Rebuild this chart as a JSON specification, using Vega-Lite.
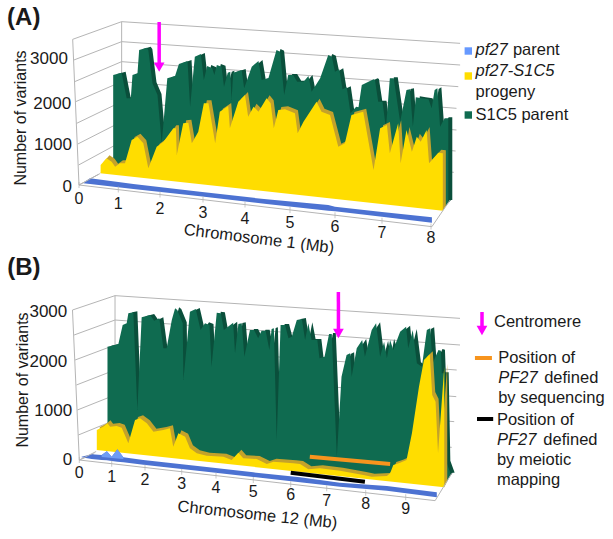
{"$schema":"https://vega.github.io/schema/vega-lite/v6.json","padding":0,"spacing":0,"bounds":"flush","background":"white","config":{"font":"Liberation Sans","view":{"stroke":null},"text":{"font":"Liberation Sans","color":"#1a1a1a"}},
"datasets":{
"gA":[{"mb":0.87,"val":2640},{"mb":1.08,"val":2696},{"mb":1.2,"val":2080},{"mb":1.3,"val":2080},{"mb":1.34,"val":2640},{"mb":1.46,"val":2680},{"mb":1.5,"val":3240},{"mb":1.68,"val":3296},{"mb":1.72,"val":3240},{"mb":1.82,"val":2440},{"mb":1.94,"val":2160},{"mb":2.04,"val":1000},{"mb":2.17,"val":2560},{"mb":2.35,"val":2616},{"mb":2.44,"val":2904},{"mb":2.64,"val":2976},{"mb":2.7,"val":1880},{"mb":2.81,"val":3080},{"mb":2.95,"val":3144},{"mb":3.02,"val":2520},{"mb":3.1,"val":2856},{"mb":3.22,"val":2800},{"mb":3.27,"val":2640},{"mb":3.33,"val":2880},{"mb":3.44,"val":2840},{"mb":3.5,"val":2360},{"mb":3.59,"val":2696},{"mb":3.65,"val":2720},{"mb":3.68,"val":2040},{"mb":3.72,"val":2696},{"mb":3.92,"val":2760},{"mb":3.98,"val":2320},{"mb":4.15,"val":2840},{"mb":4.3,"val":2976},{"mb":4.37,"val":2520},{"mb":4.52,"val":2560},{"mb":4.7,"val":3240},{"mb":4.78,"val":3200},{"mb":4.87,"val":2160},{"mb":4.96,"val":2640},{"mb":5.07,"val":2640},{"mb":5.16,"val":2480},{"mb":5.3,"val":2480},{"mb":5.41,"val":2616},{"mb":5.48,"val":2240},{"mb":5.67,"val":2560},{"mb":5.85,"val":3120},{"mb":5.93,"val":3080},{"mb":6.0,"val":2720},{"mb":6.09,"val":2776},{"mb":6.16,"val":2296},{"mb":6.25,"val":2344},{"mb":6.33,"val":1720},{"mb":6.45,"val":1880},{"mb":6.5,"val":1864},{"mb":6.57,"val":2400},{"mb":6.82,"val":2536},{"mb":6.85,"val":2520},{"mb":6.92,"val":2000},{"mb":7.01,"val":2000},{"mb":7.08,"val":1360},{"mb":7.16,"val":2560},{"mb":7.24,"val":2560},{"mb":7.37,"val":1520},{"mb":7.5,"val":2280},{"mb":7.57,"val":2296},{"mb":7.63,"val":1400},{"mb":7.69,"val":2104},{"mb":7.81,"val":2080},{"mb":7.95,"val":2056},{"mb":8.007,"val":1840},{"mb":8.04,"val":2280},{"mb":8.07,"val":2320},{"mb":8.1,"val":1400},{"mb":8.15,"val":1600},{"mb":8.19,"val":1600}],
"yA":[{"mb":0.55,"val":480},{"mb":0.7,"val":640},{"mb":0.83,"val":560},{"mb":0.92,"val":440},{"mb":1.04,"val":520},{"mb":1.16,"val":520},{"mb":1.32,"val":1080},{"mb":1.46,"val":1160},{"mb":1.6,"val":1000},{"mb":1.72,"val":400},{"mb":1.92,"val":920},{"mb":2.08,"val":1040},{"mb":2.31,"val":1360},{"mb":2.37,"val":1360},{"mb":2.39,"val":720},{"mb":2.54,"val":1480},{"mb":2.66,"val":1496},{"mb":2.74,"val":1000},{"mb":2.89,"val":1280},{"mb":3.02,"val":1960},{"mb":3.13,"val":1960},{"mb":3.29,"val":1000},{"mb":3.4,"val":1760},{"mb":3.6,"val":1896},{"mb":3.64,"val":1360},{"mb":3.84,"val":2000},{"mb":4.0,"val":2160},{"mb":4.07,"val":1640},{"mb":4.19,"val":1880},{"mb":4.3,"val":1760},{"mb":4.48,"val":2080},{"mb":4.57,"val":1960},{"mb":4.64,"val":1360},{"mb":4.74,"val":1800},{"mb":4.89,"val":1816},{"mb":5.11,"val":1720},{"mb":5.17,"val":1240},{"mb":5.3,"val":1520},{"mb":5.59,"val":2000},{"mb":5.7,"val":1760},{"mb":5.89,"val":1680},{"mb":6.07,"val":920},{"mb":6.21,"val":1000},{"mb":6.35,"val":1680},{"mb":6.6,"val":1760},{"mb":6.82,"val":360},{"mb":6.96,"val":1360},{"mb":7.1,"val":1440},{"mb":7.16,"val":760},{"mb":7.33,"val":1480},{"mb":7.38,"val":520},{"mb":7.5,"val":1320},{"mb":7.61,"val":800},{"mb":7.71,"val":1160},{"mb":7.79,"val":1040},{"mb":7.91,"val":1320},{"mb":7.96,"val":520},{"mb":8.08,"val":776},{"mb":8.13,"val":760}],
"maskA":[{"mb":0.48,"val":288},{"mb":8.13,"val":-616},{"mb":8.165,"val":-496},{"mb":8.22,"val":-360},{"mb":8.76,"val":-360}],
"blueA":[{"mb":0.11,"top":40,"bot":40},{"mb":0.28,"top":160,"bot":24},{"mb":1.36,"top":24,"bot":-96},{"mb":2.93,"top":-160,"bot":-272},{"mb":4.48,"top":-344,"bot":-456},{"mb":5.85,"top":-480,"bot":-616},{"mb":6.0,"top":-520,"bot":-632},{"mb":7.0,"top":-648,"bot":-760},{"mb":8.01,"top":-776,"bot":-904}],
"wallA":[{"g":"7","mb":-0.16,"val":3496},{"g":"7","mb":1.08,"val":3920},{"g":"7","mb":8.32,"val":3400},{"g":"6","mb":-0.13,"val":3000},{"g":"6","mb":1.08,"val":3440},{"g":"6","mb":8.32,"val":2880},{"g":"5","mb":-0.11,"val":2480},{"g":"5","mb":1.08,"val":2960},{"g":"5","mb":8.3,"val":2360},{"g":"4","mb":-0.085,"val":2000},{"g":"4","mb":1.08,"val":2480},{"g":"4","mb":8.28,"val":1840},{"g":"3","mb":-0.06,"val":1480},{"g":"3","mb":1.08,"val":2000},{"g":"3","mb":8.28,"val":1320},{"g":"2","mb":-0.03,"val":984},{"g":"2","mb":1.08,"val":1520},{"g":"2","mb":8.27,"val":816},{"g":"1","mb":-0.01,"val":480},{"g":"1","mb":1.08,"val":1040},{"g":"1","mb":8.25,"val":304},{"g":"0","mb":0,"val":0},{"g":"0","mb":1.08,"val":560},{"g":"0","mb":8.23,"val":-184},{"g":"v","mb":-0.16,"val":3496},{"g":"v","mb":0,"val":0},{"g":"b","mb":1.08,"val":3920},{"g":"b","mb":1.081,"val":560}],
"frontA":[{"g":"d","mb":0,"val":0},{"g":"d","mb":0.53,"val":272},{"g":"f","mb":0,"val":0},{"g":"f","mb":8.01,"val":-1000},{"g":"r","mb":8.01,"val":-1000},{"g":"r","mb":8.21,"val":-360}],
"ticksA":[{"mb":0,"val":0},{"mb":1,"val":-110},{"mb":2,"val":-228},{"mb":3,"val":-350},{"mb":4,"val":-469},{"mb":5,"val":-597},{"mb":6,"val":-724},{"mb":7,"val":-857},{"mb":8,"val":-996}],
"xlabA":[{"t":"0","mb":0,"val":-336},{"t":"1","mb":1,"val":-456},{"t":"2","mb":2,"val":-576},{"t":"3","mb":3,"val":-672},{"t":"4","mb":4,"val":-816},{"t":"5","mb":5,"val":-912},{"t":"6","mb":6,"val":-1008},{"t":"7","mb":7,"val":-1152},{"t":"8","mb":8,"val":-1272}],
"ylabA":[{"t":"3000","mb":-0.28,"val":3024},{"t":"2000","mb":-0.2,"val":1944},{"t":"1000","mb":-0.18,"val":960},{"t":"0","mb":-0.18,"val":-48}],
"legNormA":[{"t":"parent","mb":8.9,"val":3240},{"t":"progeny","mb":8.49,"val":2232},{"t":"S1C5 parent","mb":8.49,"val":1680}],
"legItA":[{"t":"pf27","mb":8.49,"val":3240},{"t":"pf27-S1C5","mb":8.49,"val":2736}],
"gB":[{"mb":0.87,"val":2267},{"mb":1.1,"val":2300},{"mb":1.2,"val":2320},{"mb":1.33,"val":2700},{"mb":1.45,"val":2733},{"mb":1.5,"val":2933},{"mb":1.65,"val":2953},{"mb":1.77,"val":1000},{"mb":1.9,"val":2853},{"mb":2.14,"val":2900},{"mb":2.25,"val":2787},{"mb":2.39,"val":2833},{"mb":2.5,"val":2233},{"mb":2.59,"val":2233},{"mb":2.73,"val":2800},{"mb":2.82,"val":3033},{"mb":2.88,"val":3000},{"mb":3.03,"val":2733},{"mb":3.05,"val":1600},{"mb":3.24,"val":2967},{"mb":3.41,"val":3020},{"mb":3.55,"val":2600},{"mb":3.68,"val":2733},{"mb":3.81,"val":2700},{"mb":3.87,"val":1867},{"mb":4.02,"val":2947},{"mb":4.13,"val":2933},{"mb":4.21,"val":2600},{"mb":4.46,"val":2747},{"mb":4.51,"val":2133},{"mb":4.6,"val":2720},{"mb":4.69,"val":2733},{"mb":4.76,"val":2067},{"mb":4.91,"val":2600},{"mb":5.02,"val":2600},{"mb":5.13,"val":2433},{"mb":5.22,"val":2587},{"mb":5.33,"val":2587},{"mb":5.43,"val":2200},{"mb":5.49,"val":2620},{"mb":5.55,"val":2633},{"mb":5.625,"val":400},{"mb":5.73,"val":2700},{"mb":5.85,"val":2700},{"mb":5.94,"val":2433},{"mb":6.03,"val":2467},{"mb":6.17,"val":2800},{"mb":6.31,"val":2820},{"mb":6.4,"val":2400},{"mb":6.49,"val":2733},{"mb":6.58,"val":2400},{"mb":6.74,"val":2400},{"mb":6.8,"val":2033},{"mb":6.94,"val":2067},{"mb":7.06,"val":2520},{"mb":7.13,"val":2520},{"mb":7.26,"val":67},{"mb":7.38,"val":1667},{"mb":7.51,"val":2100},{"mb":7.6,"val":2133},{"mb":7.64,"val":1667},{"mb":7.77,"val":2233},{"mb":7.91,"val":2400},{"mb":7.98,"val":2067},{"mb":8.15,"val":2600},{"mb":8.26,"val":2733},{"mb":8.36,"val":2067},{"mb":8.46,"val":2367},{"mb":8.53,"val":2033},{"mb":8.61,"val":2400},{"mb":8.69,"val":2200},{"mb":8.86,"val":2567},{"mb":9.01,"val":2667},{"mb":9.06,"val":2233},{"mb":9.17,"val":2600},{"mb":9.27,"val":1933},{"mb":9.39,"val":1867},{"mb":9.51,"val":2600},{"mb":9.59,"val":2633},{"mb":9.65,"val":1933},{"mb":9.79,"val":2200},{"mb":9.85,"val":2187},{"mb":9.87,"val":1733},{"mb":9.94,"val":1733},{"mb":9.98,"val":-33},{"mb":10.08,"val":-267}],
"yB":[{"mb":0.54,"val":600},{"mb":0.74,"val":667},{"mb":0.87,"val":733},{"mb":0.95,"val":667},{"mb":1.15,"val":680},{"mb":1.3,"val":647},{"mb":1.5,"val":333},{"mb":1.7,"val":800},{"mb":1.85,"val":833},{"mb":2.05,"val":733},{"mb":2.23,"val":567},{"mb":2.5,"val":600},{"mb":2.68,"val":633},{"mb":2.77,"val":267},{"mb":2.91,"val":533},{"mb":3.1,"val":467},{"mb":3.24,"val":233},{"mb":3.44,"val":133},{"mb":3.73,"val":87},{"mb":4.2,"val":67},{"mb":4.42,"val":0},{"mb":4.6,"val":147},{"mb":4.73,"val":33},{"mb":5.09,"val":20},{"mb":5.36,"val":-80},{"mb":5.54,"val":-33},{"mb":6.07,"val":-67},{"mb":6.26,"val":-80},{"mb":6.49,"val":-187},{"mb":6.81,"val":-167},{"mb":7.34,"val":-213},{"mb":7.94,"val":-300},{"mb":8.15,"val":-333},{"mb":8.53,"val":-320},{"mb":8.61,"val":-267},{"mb":8.69,"val":-100},{"mb":8.86,"val":-53},{"mb":9.02,"val":0},{"mb":9.15,"val":533},{"mb":9.32,"val":1467},{"mb":9.44,"val":2000},{"mb":9.58,"val":2113},{"mb":9.64,"val":1300},{"mb":9.72,"val":1167},{"mb":9.78,"val":133},{"mb":9.93,"val":1867}],
"maskB":[{"mb":0.46,"val":206},{"mb":9.93,"val":-547},{"mb":10.04,"val":-367},{"mb":10.13,"val":-253},{"mb":11.28,"val":-253}],
"blueB":[{"mb":0.07,"top":67,"bot":53},{"mb":0.38,"top":113,"bot":20},{"mb":0.69,"top":100,"bot":0},{"mb":0.85,"top":173,"bot":-7},{"mb":1.0,"top":67,"bot":-20},{"mb":1.17,"top":213,"bot":-33},{"mb":1.35,"top":53,"bot":-47},{"mb":1.95,"top":0,"bot":-93},{"mb":3.53,"top":-127,"bot":-220},{"mb":5.0,"top":-247,"bot":-340},{"mb":6.26,"top":-347,"bot":-447},{"mb":7.34,"top":-453,"bot":-533},{"mb":8.53,"top":-520,"bot":-613},{"mb":9.75,"top":-647,"bot":-747}],
"blueLightB":[{"mb":0.69,"top":100,"bot":60},{"mb":0.85,"top":173,"bot":50},{"mb":1.0,"top":67,"bot":40},{"mb":1.17,"top":213,"bot":30},{"mb":1.35,"top":53,"bot":20}],
"wallB":[{"g":"6","mb":-0.21,"val":3000},{"g":"6","mb":1.1,"val":3287},{"g":"6","mb":10.31,"val":2833},{"g":"5","mb":-0.16,"val":2500},{"g":"5","mb":1.1,"val":2800},{"g":"5","mb":10.31,"val":2300},{"g":"4","mb":-0.13,"val":2000},{"g":"4","mb":1.1,"val":2300},{"g":"4","mb":10.23,"val":1800},{"g":"3","mb":-0.09,"val":1500},{"g":"3","mb":1.1,"val":1800},{"g":"3","mb":10.22,"val":1267},{"g":"2","mb":-0.06,"val":1000},{"g":"2","mb":1.1,"val":1300},{"g":"2","mb":10.17,"val":767},{"g":"1","mb":-0.03,"val":500},{"g":"1","mb":1.1,"val":800},{"g":"1","mb":10.11,"val":253},{"g":"0","mb":0,"val":0},{"g":"0","mb":1.1,"val":300},{"g":"0","mb":10.05,"val":-253},{"g":"v","mb":-0.21,"val":3000},{"g":"v","mb":0,"val":0},{"g":"b","mb":1.1,"val":3287},{"g":"b","mb":1.101,"val":300}],
"frontB":[{"g":"d","mb":0,"val":0},{"g":"d","mb":0.52,"val":170},{"g":"f","mb":0,"val":0},{"g":"f","mb":9.71,"val":-813},{"g":"r","mb":9.71,"val":-813},{"g":"r","mb":10.11,"val":-267}],
"ticksB":[{"mb":0,"val":0},{"mb":1,"val":-74},{"mb":2,"val":-150},{"mb":3,"val":-234},{"mb":4,"val":-312},{"mb":5,"val":-398},{"mb":6,"val":-483},{"mb":7,"val":-565},{"mb":8,"val":-655},{"mb":9,"val":-746}],
"xlabB":[{"t":"0","mb":0,"val":-260},{"t":"1","mb":1,"val":-340},{"t":"2","mb":2,"val":-400},{"t":"3","mb":3,"val":-480},{"t":"4","mb":4,"val":-560},{"t":"5","mb":5,"val":-640},{"t":"6","mb":6,"val":-700},{"t":"7","mb":7,"val":-820},{"t":"8","mb":8,"val":-880},{"t":"9","mb":9,"val":-980}],
"ylabB":[{"t":"3000","mb":-0.37,"val":2960},{"t":"2000","mb":-0.37,"val":1960},{"t":"1000","mb":-0.22,"val":980},{"t":"0","mb":-0.22,"val":0}],
"legNormB":[{"t":"Centromere","mb":11.13,"val":2760},{"t":"Position of","mb":11.23,"val":2040},{"t":"defined","mb":12.34,"val":1640},{"t":"by sequencing","mb":11.23,"val":1240},{"t":"Position of","mb":11.2,"val":800},{"t":"defined","mb":12.32,"val":400},{"t":"by meiotic","mb":11.2,"val":0},{"t":"mapping","mb":11.2,"val":-400}],
"legItB":[{"t":"PF27","mb":11.23,"val":1640},{"t":"PF27","mb":11.2,"val":400}]
},
"vconcat":[
{"width":613,"height":262,
"encoding":{"x":{"field":"mb","type":"quantitative","axis":null,"scale":{"domain":[-2,0,1,2,3,4,5,6,7,8,10],"range":[0,79,118.3,160,203,245,290,335,382,431,613],"nice":false,"zero":false}},"y":{"field":"val","type":"quantitative","axis":null,"scale":{"domain":[-1848,4440],"range":[262,0],"nice":false,"zero":false}}},
"layer":[
{"data":{"name":"wallA"},"mark":{"type":"line","stroke":"#b5b5b5","strokeWidth":1},"encoding":{"detail":{"field":"g"}}},
{"data":{"name":"gA"},"mark":{"type":"area","color":"#0a4f3b","xOffset":4,"yOffset":-1},"encoding":{"y2":{"datum":-1848}}},
{"data":{"name":"gA"},"mark":{"type":"area","color":"#0f6b50"},"encoding":{"y2":{"datum":-1848}}},
{"data":{"name":"yA"},"mark":{"type":"area","color":"#c4a22a","xOffset":3,"yOffset":-3},"encoding":{"y2":{"datum":-1848}}},
{"data":{"name":"yA"},"mark":{"type":"area","color":"#ffdd00"},"encoding":{"y2":{"datum":-1848}}},
{"data":{"name":"maskA"},"mark":{"type":"area","color":"#ffffff"},"encoding":{"y2":{"datum":-1848}}},
{"data":{"name":"blueA"},"mark":{"type":"area","color":"#4c72d2"},"encoding":{"y":{"field":"top","type":"quantitative"},"y2":{"field":"bot"}}},
{"data":{"name":"frontA"},"mark":{"type":"line","stroke":"#b5b5b5","strokeWidth":1},"encoding":{"detail":{"field":"g"}}},
{"data":{"name":"ticksA"},"mark":{"type":"tick","orient":"vertical","size":6,"thickness":1,"color":"#b5b5b5"}},
{"data":{"values":[{"mb":1.98,"val":3912},{"mb":1.98,"val":2880}]},"mark":{"type":"rule","color":"#ff00ff","strokeWidth":3.5},"encoding":{"x":{"aggregate":"min","field":"mb","type":"quantitative"},"y":{"aggregate":"max","field":"val","type":"quantitative"},"y2":{"aggregate":"min","field":"val"}}},
{"data":{"values":[{"mb":1.98,"val":2830}]},"mark":{"type":"point","shape":"triangle-down","filled":true,"opacity":1,"color":"#ff00ff","size":115}},
{"data":{"values":[{"t":"(A)","mb":-1.82,"val":4008}]},"mark":{"type":"text","align":"left","baseline":"middle","fontSize":24,"fontWeight":"bold"},"encoding":{"text":{"field":"t"}}},
{"data":{"name":"ylabA"},"mark":{"type":"text","align":"right","baseline":"middle","fontSize":17},"encoding":{"text":{"field":"t"}}},
{"data":{"name":"xlabA"},"mark":{"type":"text","align":"center","baseline":"middle","fontSize":16},"encoding":{"text":{"field":"t"}}},
{"data":{"values":[{"t":"Number of variants","mb":-1.47,"val":1608}]},"mark":{"type":"text","align":"center","baseline":"middle","fontSize":16,"angle":270},"encoding":{"text":{"field":"t"}}},
{"data":{"values":[{"t":"Chromosome 1 (Mb)","mb":4.31,"val":-1296}]},"mark":{"type":"text","align":"center","baseline":"middle","fontSize":16.5,"angle":7},"encoding":{"text":{"field":"t"}}},
{"data":{"name":"legNormA"},"mark":{"type":"text","align":"left","baseline":"middle","fontSize":16.5},"encoding":{"text":{"field":"t"}}},
{"data":{"name":"legItA"},"mark":{"type":"text","align":"left","baseline":"middle","fontSize":16.5,"fontStyle":"italic"},"encoding":{"text":{"field":"t"}}},
{"data":{"values":[{"s":"pf27 parent","mb":8.41,"val":3216,"c":"#6699ff"},{"s":"pf27-S1C5 progeny","mb":8.41,"val":2616,"c":"#ffdd00"},{"s":"S1C5 parent","mb":8.41,"val":1680,"c":"#0f6b50"}]},"mark":{"type":"square","size":55,"opacity":1},"encoding":{"color":{"field":"c","type":"nominal","scale":null}}}
]},
{"width":613,"height":277,
"encoding":{"x":{"field":"mb","type":"quantitative","axis":null,"scale":{"domain":[-2.44,0,1,2,3,4,5,6,7,8,9,14],"range":[0,79.3,111.7,145,181.7,216,253.3,290.7,326.7,365.7,405.7,613],"nice":false,"zero":false}},"y":{"field":"val","type":"quantitative","axis":null,"scale":{"domain":[-1580,3960],"range":[277,0],"nice":false,"zero":false}}},
"layer":[
{"data":{"name":"wallB"},"mark":{"type":"line","stroke":"#b5b5b5","strokeWidth":1},"encoding":{"detail":{"field":"g"}}},
{"data":{"name":"gB"},"mark":{"type":"area","color":"#0a4f3b","xOffset":4,"yOffset":-1},"encoding":{"y2":{"datum":-1580}}},
{"data":{"name":"gB"},"mark":{"type":"area","color":"#0f6b50"},"encoding":{"y2":{"datum":-1580}}},
{"data":{"name":"yB"},"mark":{"type":"area","color":"#c4a22a","xOffset":3,"yOffset":-3},"encoding":{"y2":{"datum":-1580}}},
{"data":{"name":"yB"},"mark":{"type":"area","color":"#ffdd00"},"encoding":{"y2":{"datum":-1580}}},
{"data":{"name":"maskB"},"mark":{"type":"area","color":"#ffffff"},"encoding":{"y2":{"datum":-1580}}},
{"data":{"name":"blueB"},"mark":{"type":"area","color":"#4c72d2"},"encoding":{"y":{"field":"top","type":"quantitative"},"y2":{"field":"bot"}}},
{"data":{"name":"blueLightB"},"mark":{"type":"area","color":"#6e9cf5"},"encoding":{"y":{"field":"top","type":"quantitative"},"y2":{"field":"bot"}}},
{"data":{"name":"frontB"},"mark":{"type":"line","stroke":"#b5b5b5","strokeWidth":1},"encoding":{"detail":{"field":"g"}}},
{"data":{"name":"ticksB"},"mark":{"type":"tick","orient":"vertical","size":6,"thickness":1,"color":"#b5b5b5"}},
{"data":{"values":[{"g":"seq","mb":6.53,"val":67},{"g":"seq","mb":8.61,"val":-80},{"g":"legseq","mb":10.67,"val":2040},{"g":"legseq","mb":11.08,"val":2040}]},"mark":{"type":"line","stroke":"#f7941d","strokeWidth":4},"encoding":{"detail":{"field":"g"}}},
{"data":{"values":[{"g":"map","mb":6.0,"val":-253},{"g":"map","mb":7.98,"val":-433},{"g":"legmap","mb":10.72,"val":820},{"g":"legmap","mb":11.11,"val":820}]},"mark":{"type":"line","stroke":"#000000","strokeWidth":4},"encoding":{"detail":{"field":"g"}}},
{"data":{"values":[{"g":"c","mb":7.3,"val":3360},{"g":"c","mb":7.301,"val":2580},{"g":"l","mb":10.84,"val":2960},{"g":"l","mb":10.841,"val":2640}]},"mark":{"type":"line","stroke":"#ff00ff","strokeWidth":3.5},"encoding":{"detail":{"field":"g"}}},
{"data":{"values":[{"mb":7.3,"val":2530},{"mb":10.84,"val":2590}]},"mark":{"type":"point","shape":"triangle-down","filled":true,"opacity":1,"color":"#ff00ff","size":115}},
{"data":{"values":[{"t":"(B)","mb":-2.22,"val":3840}]},"mark":{"type":"text","align":"left","baseline":"middle","fontSize":24,"fontWeight":"bold"},"encoding":{"text":{"field":"t"}}},
{"data":{"name":"ylabB"},"mark":{"type":"text","align":"right","baseline":"middle","fontSize":17},"encoding":{"text":{"field":"t"}}},
{"data":{"name":"xlabB"},"mark":{"type":"text","align":"center","baseline":"middle","fontSize":16},"encoding":{"text":{"field":"t"}}},
{"data":{"values":[{"t":"Number of variants","mb":-1.73,"val":1600}]},"mark":{"type":"text","align":"center","baseline":"middle","fontSize":16,"angle":270},"encoding":{"text":{"field":"t"}}},
{"data":{"values":[{"t":"Chromosome 12 (Mb)","mb":5.11,"val":-1100}]},"mark":{"type":"text","align":"center","baseline":"middle","fontSize":16.5,"angle":6},"encoding":{"text":{"field":"t"}}},
{"data":{"name":"legNormB"},"mark":{"type":"text","align":"left","baseline":"middle","fontSize":16.5},"encoding":{"text":{"field":"t"}}},
{"data":{"name":"legItB"},"mark":{"type":"text","align":"left","baseline":"middle","fontSize":16.5,"fontStyle":"italic"},"encoding":{"text":{"field":"t"}}}
]}
]}
